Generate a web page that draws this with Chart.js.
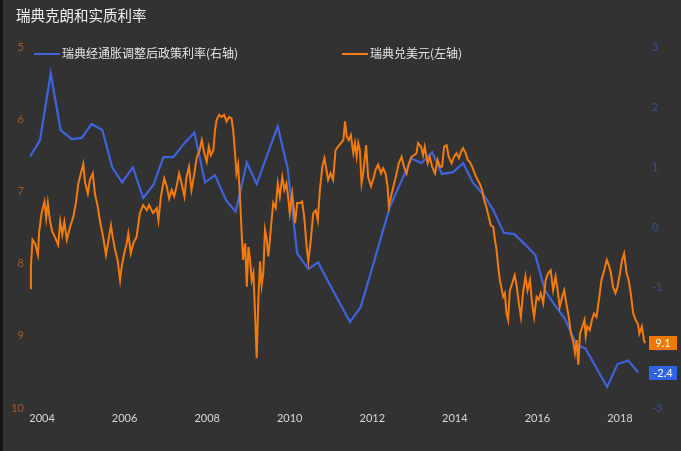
<!DOCTYPE html>
<html>
<head>
<meta charset="utf-8">
<script src="https://cdn.jsdelivr.net/npm/chart.js@4"></script>
<style>
  html, body { margin: 0; padding: 0; background: #323232; }
  #wrap { position: relative; width: 681px; height: 451px; overflow: hidden; background: #323232; }
  #wrap canvas { position: absolute; left: 0; top: 0; }
  .edge { position: absolute; left: 0; top: 0; width: 3px; height: 451px; background: #151515; }
  .title { position: absolute; left: 16px; top: 4px; font: 14.5px "Noto Sans CJK SC", sans-serif; color: #f0f0f0; }
  .leg { position: absolute; top: 44px; font: 12px "Noto Sans CJK SC", sans-serif; color: #e6e6e6; white-space: nowrap; }
  .leg i { display: inline-block; width: 26px; height: 2px; vertical-align: 3px; margin-right: 2px; }
</style>
</head>
<body>
<div id="wrap">
  <canvas id="chart" width="681" height="451"></canvas>
  <div class="edge"></div>
  <div class="title">瑞典克朗和实质利率</div>
  <div class="leg" style="left:34px"><i style="background:#3e63dd"></i>瑞典经通胀调整后政策利率(右轴)</div>
  <div class="leg" style="left:342px"><i style="background:#f47b0b"></i>瑞典兑美元(左轴)</div>
</div>
<script>
// ── Data ──────────────────────────────────────────────────
const xTicks = [2004, 2006, 2008, 2010, 2012, 2014, 2016, 2018];

// Swedish krona per USD (left axis, inverted)
const sekT = [
  2003.71, 2003.73, 2003.77, 2003.83, 2003.90, 2003.93, 2003.99, 2004.06, 2004.10, 2004.14,
  2004.19, 2004.25, 2004.31, 2004.39, 2004.44, 2004.49, 2004.54, 2004.60, 2004.68, 2004.76,
  2004.82, 2004.88, 2004.94, 2005.00, 2005.04, 2005.11, 2005.16, 2005.23, 2005.28, 2005.35,
  2005.40, 2005.48, 2005.55, 2005.61, 2005.67, 2005.71, 2005.77, 2005.83, 2005.89, 2005.93,
  2005.99, 2006.05, 2006.09, 2006.15, 2006.21, 2006.29, 2006.37, 2006.45, 2006.54, 2006.59,
  2006.69, 2006.78, 2006.82, 2006.88, 2006.96, 2007.02, 2007.08, 2007.14, 2007.20, 2007.26,
  2007.32, 2007.38, 2007.45, 2007.50, 2007.56, 2007.62, 2007.69, 2007.75, 2007.81, 2007.87,
  2007.93, 2007.99, 2008.04, 2008.09, 2008.15, 2008.19, 2008.23, 2008.29, 2008.35, 2008.41,
  2008.47, 2008.53, 2008.59, 2008.63, 2008.67, 2008.71, 2008.75, 2008.79, 2008.84, 2008.87,
  2008.92, 2008.96, 2009.00, 2009.04, 2009.08, 2009.12, 2009.16, 2009.20, 2009.24, 2009.28,
  2009.32, 2009.36, 2009.40, 2009.44, 2009.48, 2009.52, 2009.56, 2009.60, 2009.66, 2009.71,
  2009.76, 2009.82, 2009.87, 2009.92, 2009.96, 2010.00, 2010.06, 2010.13, 2010.18, 2010.25,
  2010.30, 2010.35, 2010.41, 2010.45, 2010.51, 2010.57, 2010.63, 2010.68, 2010.73, 2010.79,
  2010.84, 2010.89, 2010.93, 2010.99, 2011.05, 2011.11, 2011.17, 2011.24, 2011.30, 2011.34,
  2011.38, 2011.43, 2011.48, 2011.54, 2011.58, 2011.62, 2011.66, 2011.70, 2011.74, 2011.78,
  2011.85, 2011.90, 2011.97, 2012.02, 2012.08, 2012.14, 2012.21, 2012.26, 2012.32, 2012.37,
  2012.40, 2012.47, 2012.53, 2012.59, 2012.64, 2012.71, 2012.77, 2012.83, 2012.89, 2012.95,
  2013.01, 2013.07, 2013.11, 2013.18, 2013.23, 2013.27, 2013.34, 2013.39, 2013.45, 2013.52,
  2013.58, 2013.64, 2013.69, 2013.74, 2013.80, 2013.85, 2013.92, 2013.98, 2014.04, 2014.10,
  2014.15, 2014.20, 2014.26, 2014.31, 2014.36, 2014.42, 2014.48, 2014.55, 2014.60, 2014.66,
  2014.71, 2014.77, 2014.82, 2014.87, 2014.93, 2014.97, 2015.01, 2015.05, 2015.09, 2015.13,
  2015.17, 2015.21, 2015.25, 2015.29, 2015.33, 2015.39, 2015.45, 2015.50, 2015.55, 2015.60,
  2015.65, 2015.71, 2015.76, 2015.82, 2015.87, 2015.92, 2015.98, 2016.03, 2016.08, 2016.14,
  2016.20, 2016.26, 2016.32, 2016.38, 2016.44, 2016.49, 2016.54, 2016.60, 2016.65, 2016.70,
  2016.76, 2016.81, 2016.86, 2016.91, 2016.95, 2016.99, 2017.03, 2017.09, 2017.14, 2017.17,
  2017.21, 2017.27, 2017.32, 2017.37, 2017.43, 2017.49, 2017.55, 2017.62, 2017.68, 2017.73,
  2017.78, 2017.83, 2017.89, 2017.94, 2018.00, 2018.05, 2018.10, 2018.16, 2018.21, 2018.26,
  2018.32, 2018.38, 2018.43, 2018.47, 2018.53, 2018.58, 2018.61
];
const sekV = [
  8.34, 8.04, 7.67, 7.72, 7.88, 7.56, 7.30, 7.14, 7.37, 7.16,
  7.40, 7.56, 7.63, 7.74, 7.42, 7.60, 7.42, 7.67, 7.49, 7.35,
  7.16, 6.89, 6.75, 6.62, 6.87, 7.03, 6.84, 6.75, 7.03, 7.21,
  7.40, 7.63, 7.88, 7.67, 7.47, 7.63, 7.81, 7.95, 8.23, 8.04,
  7.86, 7.72, 7.58, 7.86, 7.72, 7.63, 7.30, 7.19, 7.26, 7.19,
  7.30, 7.23, 7.40, 7.07, 6.82, 6.93, 7.10, 6.98, 7.07, 6.93,
  6.75, 6.89, 7.07, 6.80, 6.66, 6.98, 6.75, 6.52, 6.45, 6.29,
  6.47, 6.59, 6.38, 6.50, 6.43, 6.15, 6.01, 5.94, 5.97, 5.94,
  6.03, 5.97, 5.99, 6.15, 6.43, 6.75, 6.63, 7.03, 7.63, 7.95,
  7.72, 8.32, 7.77, 7.95, 8.23, 8.13, 8.69, 9.31, 8.50, 7.97,
  8.30, 8.13, 7.53, 7.65, 7.90, 7.67, 7.40, 7.16, 7.23, 6.89,
  7.07, 6.80, 6.98, 6.89, 7.07, 7.30, 7.03, 7.44, 7.16, 7.16,
  7.14, 7.35, 7.77, 7.97, 7.67, 7.30, 7.26, 7.40, 6.98, 6.66,
  6.54, 6.70, 6.84, 6.75, 6.84, 6.43, 6.38, 6.33, 6.29, 6.03,
  6.24, 6.29, 6.22, 6.47, 6.33, 6.52, 6.33, 6.43, 6.89, 6.75,
  6.36, 6.80, 6.93, 6.84, 6.70, 6.63, 6.75, 6.68, 6.75, 6.93,
  7.21, 7.03, 6.89, 6.75, 6.61, 6.52, 6.66, 6.75, 6.61, 6.52,
  6.50, 6.47, 6.33, 6.38, 6.50, 6.38, 6.61, 6.52, 6.66, 6.75,
  6.56, 6.66, 6.66, 6.38, 6.36, 6.52, 6.61, 6.52, 6.47, 6.54,
  6.45, 6.40, 6.47, 6.56, 6.59, 6.66, 6.75, 6.84, 6.89, 6.98,
  7.12, 7.23, 7.35, 7.47, 7.49, 7.67, 7.81, 8.04, 8.23, 8.34,
  8.46, 8.41, 8.69, 8.78, 8.38, 8.27, 8.16, 8.32, 8.55, 8.74,
  8.41, 8.18, 8.37, 8.23, 8.55, 8.74, 8.46, 8.50, 8.41, 8.55,
  8.23, 8.13, 8.09, 8.37, 8.18, 8.37, 8.60, 8.46, 8.37, 8.55,
  8.74, 8.97, 9.06, 9.24, 9.06, 9.40, 8.97, 8.87, 8.78, 9.01,
  8.87, 8.92, 8.78, 8.69, 8.74, 8.50, 8.23, 8.09, 7.95, 8.02,
  8.13, 8.32, 8.41, 8.32, 8.13, 7.95, 7.86, 8.13, 8.23, 8.41,
  8.69, 8.78, 8.83, 8.97, 8.87, 9.06, 9.10
];

// Inflation-adjusted policy rate (right axis)
const rateT = [
  2003.71, 2003.95, 2004.21, 2004.45, 2004.72, 2004.96, 2005.20, 2005.46, 2005.70, 2005.94,
  2006.20, 2006.45, 2006.70, 2006.94, 2007.18, 2007.46, 2007.69, 2007.95, 2008.19, 2008.46,
  2008.69, 2008.96, 2009.20, 2009.45, 2009.71, 2009.95, 2010.18, 2010.45, 2010.69, 2010.94,
  2011.20, 2011.46, 2011.72, 2011.96, 2012.20, 2012.43, 2012.69, 2012.95, 2013.19, 2013.45,
  2013.69, 2013.96, 2014.20, 2014.44, 2014.69, 2014.93, 2015.19, 2015.44, 2015.70, 2015.95,
  2016.18, 2016.42, 2016.66, 2016.95, 2017.16, 2017.41, 2017.69, 2017.94, 2018.20, 2018.44
];
const rateV = [
  1.18, 1.45, 2.56, 1.62, 1.47, 1.49, 1.72, 1.62, 1.00, 0.75,
  1.00, 0.49, 0.71, 1.17, 1.17, 1.41, 1.58, 0.75, 0.87, 0.45,
  0.26, 1.08, 0.72, 1.20, 1.68, 0.98, -0.43, -0.69, -0.58, -0.91,
  -1.24, -1.57, -1.32, -0.76, -0.19, 0.35, 0.75, 1.15, 1.07, 1.25,
  0.89, 0.92, 1.07, 0.74, 0.55, 0.29, -0.09, -0.11, -0.28, -0.46,
  -1.04, -1.29, -1.51, -1.95, -2.01, -2.31, -2.65, -2.27, -2.21, -2.41
];

const sekLabel = '9.1';
const rateLabel = '-2.4';

// ── Colours ───────────────────────────────────────────────
const ORANGE = '#f47b0b';
const BLUE = '#3e63dd';

// ── Last-value boxes on the right ─────────────────────────
const endTags = {
  id: 'endTags',
  afterDraw(chart) {
    const { ctx, chartArea, scales } = chart;
    const tags = [
      { y: scales.yL.getPixelForValue(sekV[sekV.length - 1]), text: sekLabel, bg: '#f07800' },
      { y: scales.yR.getPixelForValue(rateV[rateV.length - 1]), text: rateLabel, bg: '#2f62e6' },
    ];
    ctx.save();
    ctx.font = '11px Lato, sans-serif';
    ctx.textAlign = 'center';
    ctx.textBaseline = 'middle';
    for (const t of tags) {
      const x = chartArea.right + 3;
      ctx.fillStyle = t.bg;
      ctx.fillRect(x, Math.round(t.y) - 7, 28, 14);
      ctx.fillStyle = '#ffffff';
      ctx.fillText(t.text, x + 14, t.y + 0.5);
    }
    ctx.restore();
  }
};

const noGrid = { display: false, drawTicks: false };

new Chart(document.getElementById('chart'), {
  type: 'line',
  data: {
    datasets: [
      {
        label: '瑞典兑美元(左轴)',
        data: sekT.map((t, i) => ({ x: t, y: sekV[i] })),
        yAxisID: 'yL',
        borderColor: ORANGE,
        borderWidth: 2,
        pointRadius: 0,
        tension: 0,
      },
      {
        label: '瑞典经通胀调整后政策利率(右轴)',
        data: rateT.map((t, i) => ({ x: t, y: rateV[i] })),
        yAxisID: 'yR',
        borderColor: BLUE,
        borderWidth: 2.2,
        pointRadius: 0,
        tension: 0,
      },
    ],
  },
  plugins: [endTags],
  options: {
    responsive: false,
    animation: false,
    layout: { padding: { top: 47, left: 0, right: 0, bottom: 0 } },
    plugins: { legend: { display: false }, tooltip: { enabled: false } },
    scales: {
      x: {
        type: 'linear',
        min: 2003.66,
        max: 2018.63,
        grid: noGrid,
        border: { display: false },
        afterBuildTicks: s => { s.ticks = xTicks.map(v => ({ value: v })); },
        afterFit: s => { s.height = 43; },
        ticks: {
          color: '#d6d6d6',
          font: { family: 'Lato', size: 11 },
          padding: 4,
          maxRotation: 0,
          autoSkip: false,
          callback: v => String(v),
        },
      },
      yL: {
        position: 'left',
        reverse: true,
        min: 5,
        max: 10,
        grid: noGrid,
        border: { display: false },
        afterFit: s => { s.width = 28; },
        ticks: { stepSize: 1, color: '#a65a26', font: { family: 'Lato', size: 11 }, padding: 4 },
      },
      yR: {
        position: 'right',
        min: -3,
        max: 3,
        grid: noGrid,
        border: { display: false },
        afterFit: s => { s.width = 35; },
        ticks: { stepSize: 1, color: '#3a4d9a', font: { family: 'Lato', size: 11 }, padding: 6 },
      },
    },
  },
});
</script>
</body>
</html>
